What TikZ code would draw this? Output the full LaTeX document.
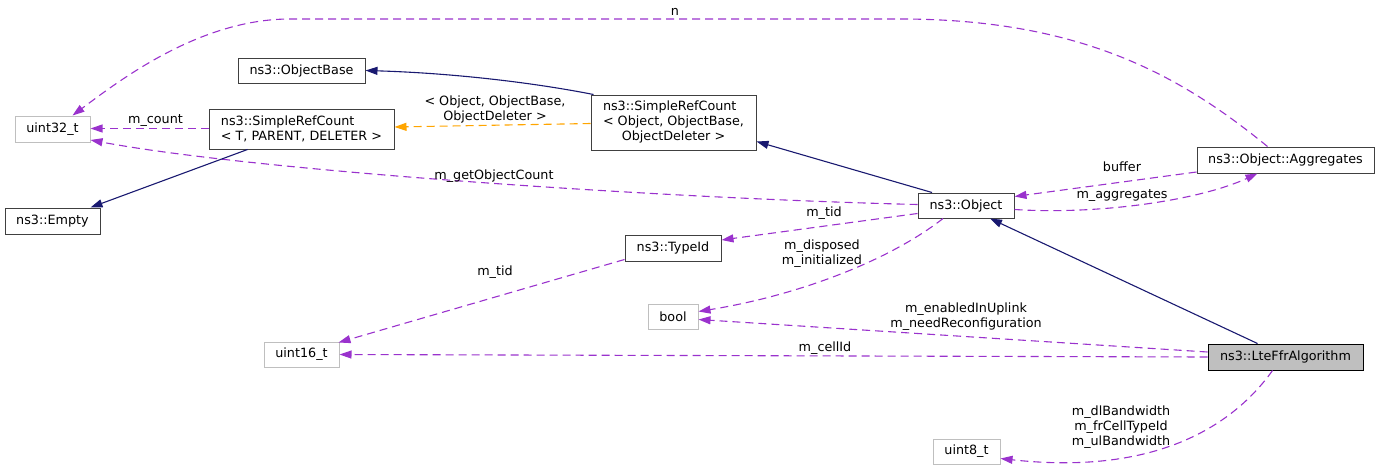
\documentclass[tikz,border=0pt]{standalone}
\usepackage{fontspec}
\setmainfont{DejaVu Sans}
\usetikzlibrary{arrows.meta, calc}
\definecolor{membercol}{HTML}{9A32CD}
\definecolor{tmplcol}{HTML}{FFA500}
\definecolor{inhercol}{HTML}{191970}
\definecolor{extborder}{HTML}{BFBFBF}
\definecolor{clsborder}{HTML}{404040}
\definecolor{mainfill}{HTML}{BFBFBF}
\tikzset{
    cls/.style={draw=clsborder, line width=1pt, fill=white, inner sep=0pt, align=center,
                font=\fontsize{12.75}{15}\selectfont},
    ext/.style={cls, draw=extborder},
    mainclass/.style={cls, draw=black, fill=mainfill},
    member/.style={draw=membercol, line width=1.1pt, dash pattern=on 8pt off 5pt,
                   -{Triangle[length=12pt, width=8pt]}},
    tmpl/.style={member, draw=tmplcol},
    inher/.style={draw=inhercol, line width=1.1pt, -{Triangle[length=12pt, width=8pt]}},
    elabel/.style={inner sep=0pt, align=center, font=\fontsize{12.75}{15}\selectfont}
}
\begin{document}
\begin{tikzpicture}[x=1pt, y=-1pt]
        \useasboundingbox (0,0) rectangle (1380,471);

        \node[ext, minimum width=75, minimum height=26] (u32) at (52.5,129) {uint32\_t};
        \node[cls, minimum width=127, minimum height=25] (objbase) at (301.5,70.5) {ns3::ObjectBase};
        \node[cls, minimum width=185, minimum height=40, align=left] (srcT) at (301.5,129)
            {ns3::SimpleRefCount\\< T, PARENT, DELETER >};
        \node[cls, minimum width=95, minimum height=26] (empty) at (52.5,221) {ns3::Empty};
        \node[cls, minimum width=165, minimum height=55] (srcO) at (673.5,122.5)
            {\begin{tabular}{@{}l@{}}ns3::SimpleRefCount\\< Object, ObjectBase,\\
             \multicolumn{1}{@{}c@{}}{ObjectDeleter >}\end{tabular}};
        \node[cls, minimum width=177, minimum height=26] (aggr) at (1285.5,160) {ns3::Object::Aggregates};
        \node[cls, minimum width=96, minimum height=25] (obj) at (966,205.5) {ns3::Object};
        \node[cls, minimum width=96, minimum height=26] (typeid) at (673,248) {ns3::TypeId};
        \node[ext, minimum width=50, minimum height=25] (bool) at (673,316.5) {bool};
        \node[ext, minimum width=75, minimum height=25] (u16) at (301.5,354.5) {uint16\_t};
        \node[mainclass, minimum width=155, minimum height=26] (lteffr) at (1285.5,357) {ns3::LteFfrAlgorithm};
        \node[ext, minimum width=67, minimum height=25] (u8) at (966.5,451.5) {uint8\_t};

        \draw[member] ($(aggr.north)+(-18,0)$) .. controls (1180,75) and (1080,19) .. (900,19)
            -- (290,19) .. controls (200,19) and (120,80) .. ($(u32.north)+(20,0)$);
        \draw[member] ($(srcT.west)+(0,-0.5)$) -- ($(u32.east)+(0,-0.5)$);
        \draw[member] ($(obj.west)+(0,-1)$) .. controls (650,198) and (250,170) .. ($(u32.east)+(0,11)$);
        \draw[inher] ($(srcO.north west)+(3,0)$) .. controls (530,82) and (450,73) .. (objbase.east);
        \draw[tmpl] ($(srcO.west)+(0,1)$) -- ($(srcT.east)+(0,-2)$);
        \draw[inher] ($(srcT.south)+(-54,0)$) -- ($(empty.north)+(38,0)$);
        \draw[inher] ($(obj.north)+(-34,0)$) -- ($(srcO.east)+(0,19)$);
        \draw[member] ($(aggr.west)+(0,12)$) -- ($(obj.east)+(0,-9)$);
        \draw[member] ($(obj.east)+(0,4)$) .. controls (1100,215) and (1200,200) .. ($(aggr.south)+(-28,0)$);
        \draw[member] ($(obj.west)+(0,8)$) -- ($(typeid.east)+(0,-8)$);
        \draw[member] ($(obj.south)+(-23,0)$) .. controls (890,260) and (800,295) .. ($(bool.east)+(0,-5)$);
        \draw[member] ($(typeid.south west)+(0,-2)$) -- ($(u16.north east)+(-1,1)$);
        \draw[inher] ($(lteffr.north)+(-28,0)$) -- ($(obj.south)+(24,0)$);
        \draw[member] ($(lteffr.west)+(0,-5)$) -- ($(bool.east)+(0,3)$);
        \draw[member] (lteffr.west) -- (u16.east);
        \draw[member] ($(lteffr.south)+(-13,0)$) .. controls (1230,430) and (1150,475) .. ($(u8.east)+(0,7)$);

        \node[elabel] (l-n) at (675,12) {n};
        \node[elabel] (l-tmpl) at (495,109.5) {< Object, ObjectBase,\\ObjectDeleter >};
        \node[elabel] (l-count) at (155.5,121) {m\_count};
        \node[elabel] (l-goc) at (494,176) {m\_getObjectCount};
        \node[elabel] (l-buffer) at (1122,167) {buffer};
        \node[elabel] (l-aggr) at (1122,196) {m\_aggregates};
        \node[elabel] (l-tid1) at (824,213) {m\_tid};
        \node[elabel] (l-disp) at (822,254) {m\_disposed\\m\_initialized};
        \node[elabel] (l-tid2) at (495,272) {m\_tid};
        \node[elabel] (l-upl) at (966,317) {m\_enabledInUplink\\m\_needReconfiguration};
        \node[elabel] (l-cell) at (825,348) {m\_cellId};
        \node[elabel] (l-bw) at (1121,427) {m\_dlBandwidth\\m\_frCellTypeId\\m\_ulBandwidth};
\end{tikzpicture}
\end{document}
